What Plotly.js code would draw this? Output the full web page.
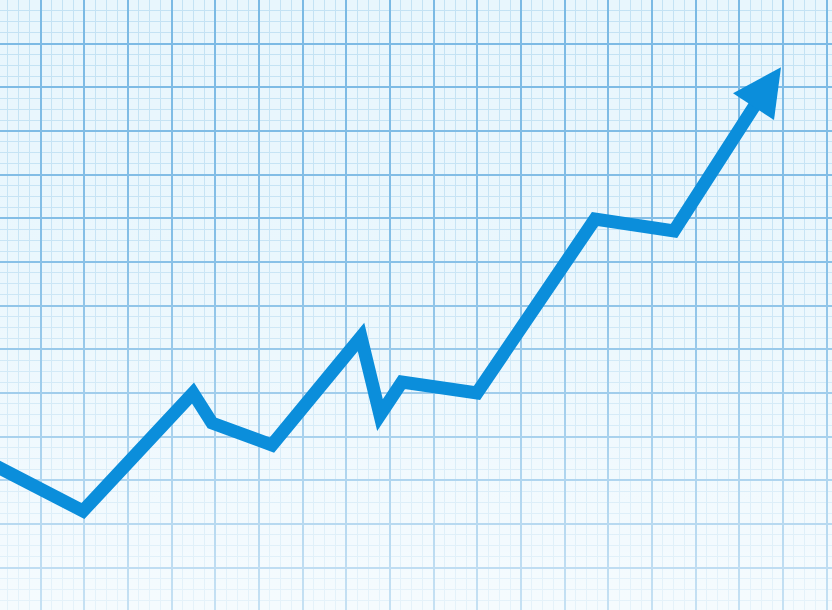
<!DOCTYPE html>
<html>
<head>
<meta charset="utf-8">
<script src="https://cdn.plot.ly/plotly-3.0.1.min.js"></script>
<style>
  html, body { margin: 0; padding: 0; background: #e8f6fd; }
  #chart { width: 832px; height: 610px; }
  .scatterlayer path.js-line { stroke-miterlimit: 30 !important; stroke-linejoin: miter !important; }
</style>
</head>
<body>
<div id="chart"></div>
<script>
// Trend line values (x position, value)
var trendX = [-4, 83, 193, 212, 272, 361, 380, 402, 477, 595, 674, 757];
var trendY = [144, 99, 217, 187, 165, 273, 195, 228, 217, 391, 379, 508];

// Arrow head vertices (left corner, tip, right corner)
var headX = [733, 781, 774];
var headY = [516.7, 542.7, 490];

// Grid spacing
var majorStep = 43.66;
var minorStep = majorStep / 4;
var xGridStart = 40.7;
var yGridStart = 42.4;

var lineColor = '#0b8edb';

var traces = [
  {
    // empty trace so the major-grid overlay subplot exists
    x: [null],
    y: [null],
    xaxis: 'x2',
    yaxis: 'y2',
    mode: 'lines',
    hoverinfo: 'skip',
    showlegend: false
  },
  {
    // white fade overlay that lightens the grid toward the bottom
    x: [-20, 852, 852, -20],
    y: [-20, -20, 630, 630],
    mode: 'none',
    fill: 'toself',
    fillgradient: {
      type: 'vertical',
      colorscale: [
        [0, 'rgba(255,255,255,0.6)'],
        [0.3, 'rgba(255,255,255,0.35)'],
        [0.6, 'rgba(255,255,255,0.08)'],
        [1, 'rgba(255,255,255,0)']
      ]
    },
    hoverinfo: 'skip',
    showlegend: false
  },
  {
    x: trendX,
    y: trendY,
    mode: 'lines',
    line: { color: lineColor, width: 13 },
    hoverinfo: 'skip',
    showlegend: false
  },
  {
    x: headX,
    y: headY,
    mode: 'lines',
    fill: 'toself',
    fillcolor: lineColor,
    line: { color: lineColor, width: 0 },
    hoverinfo: 'skip',
    showlegend: false
  }
];

function gridAxis(start, step, color, width, range) {
  return {
    range: range,
    tick0: start,
    dtick: step,
    showgrid: true,
    gridcolor: color,
    gridwidth: width,
    showticklabels: false,
    ticks: '',
    zeroline: false,
    showline: false,
    fixedrange: true
  };
}

// main axes carry the minor grid, overlay axes carry the major grid
var xMinor = gridAxis(xGridStart, minorStep, '#c3e2f4', 1, [0, 832]);
var yMinor = gridAxis(yGridStart, minorStep, '#c3e2f4', 1, [0, 610]);
var xMajor = gridAxis(xGridStart, majorStep, '#7ab9e4', 2, [0, 832]);
var yMajor = gridAxis(yGridStart, majorStep, '#7ab9e4', 2, [0, 610]);
xMajor.overlaying = 'x';
yMajor.overlaying = 'y';

var layout = {
  width: 832,
  height: 610,
  margin: { l: 0, r: 0, t: 0, b: 0, pad: 0 },
  paper_bgcolor: '#e8f6fd',
  plot_bgcolor: '#e8f6fd',
  showlegend: false,
  xaxis: xMinor,
  yaxis: yMinor,
  xaxis2: xMajor,
  yaxis2: yMajor
};

Plotly.newPlot('chart', traces, layout, { displayModeBar: false, staticPlot: true });
</script>
</body>
</html>
